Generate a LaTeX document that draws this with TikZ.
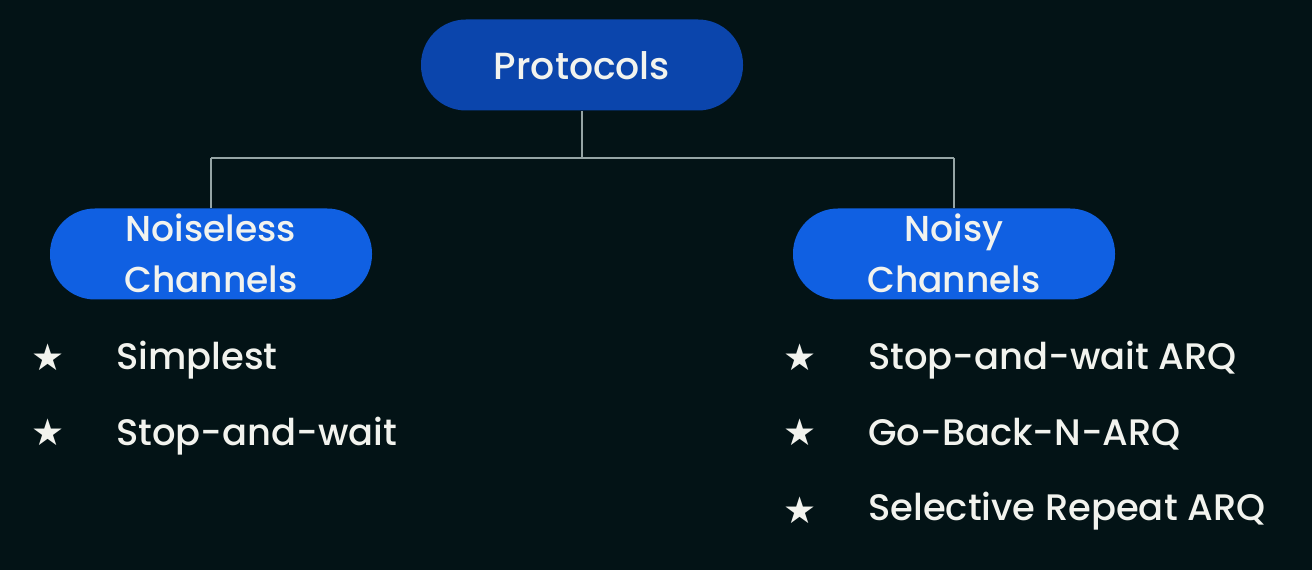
\documentclass[tikz,border=0pt]{standalone}
\usepackage{fontspec}
\setmainfont{Poppins}[UprightFont=* Medium]
\newfontfamily\symfont{DejaVu Sans}
\definecolor{bg}{RGB}{3,19,22}
\definecolor{topblue}{RGB}{11,69,172}
\definecolor{chblue}{RGB}{16,96,226}
\definecolor{txt}{RGB}{242,243,238}
\definecolor{wire}{RGB}{150,165,165}
\tikzset{
  x=0.02cm, y=-0.02cm,
  pill/.style={rounded corners=45*0.02cm, minimum width=322*0.02cm, minimum height=91*0.02cm, inner sep=0pt},
  lbl/.style={text=txt, inner sep=0pt, font=\fontsize{21.5}{21.5}\selectfont},
  chl/.style={text=txt, inner sep=0pt, anchor=base, font=\fontsize{20.5}{20.5}\selectfont},
  bul/.style={text=txt, inner sep=0pt, anchor=base west, font=\fontsize{21}{21}\selectfont},
  starmark/.style={text=txt, inner sep=0pt, font=\symfont\fontsize{21}{21}\selectfont},
  link/.style={draw=wire, line width=1.1pt},
}
\begin{document}
\begin{tikzpicture}
\fill[bg] (0,0) rectangle (1312,570);
\useasboundingbox (0,0) rectangle (1312,570);
\node[pill, fill=topblue] (proto) at (582,65) {};
\node[lbl, anchor=base] (protot) at (582,80) {Protocols};
\node[pill, fill=chblue] (nl) at (211,254) {};
\node[pill, fill=chblue] (ny) at (954,254) {};
\coordinate (j) at (582,158);
\coordinate (jl) at (211,158);
\coordinate (jr) at (954,158);
\draw[link] (proto.south) -- (j) (jl) -- (jr);
\draw[link] (jl) -- (nl.north);
\draw[link] (jr) -- (ny.north);
\node[chl] (nl1) at (211,242) {Noiseless};
\node[chl] (nl2) at (211,293) {Channels};
\node[chl] (ny1) at (954,242) {Noisy};
\node[chl] (ny2) at (954,293) {Channels};
\node[starmark] (s1) at (48,357) {★};
\node[starmark] (s2) at (48,432) {★};
\node[bul] (b1) at (116,370) {Simplest};
\node[bul] (b2) at (116,446) {Stop-and-wait};
\node[starmark] (s3) at (800,357) {★};
\node[starmark] (s4) at (800,432) {★};
\node[starmark] (s5) at (800,510) {★};
\node[bul] (b3) at (868,370) {Stop-and-wait ARQ};
\node[bul] (b4) at (868,446) {Go-Back-N-ARQ};
\node[bul] (b5) at (868,521) {Selective Repeat ARQ};
\end{tikzpicture}
\end{document}
